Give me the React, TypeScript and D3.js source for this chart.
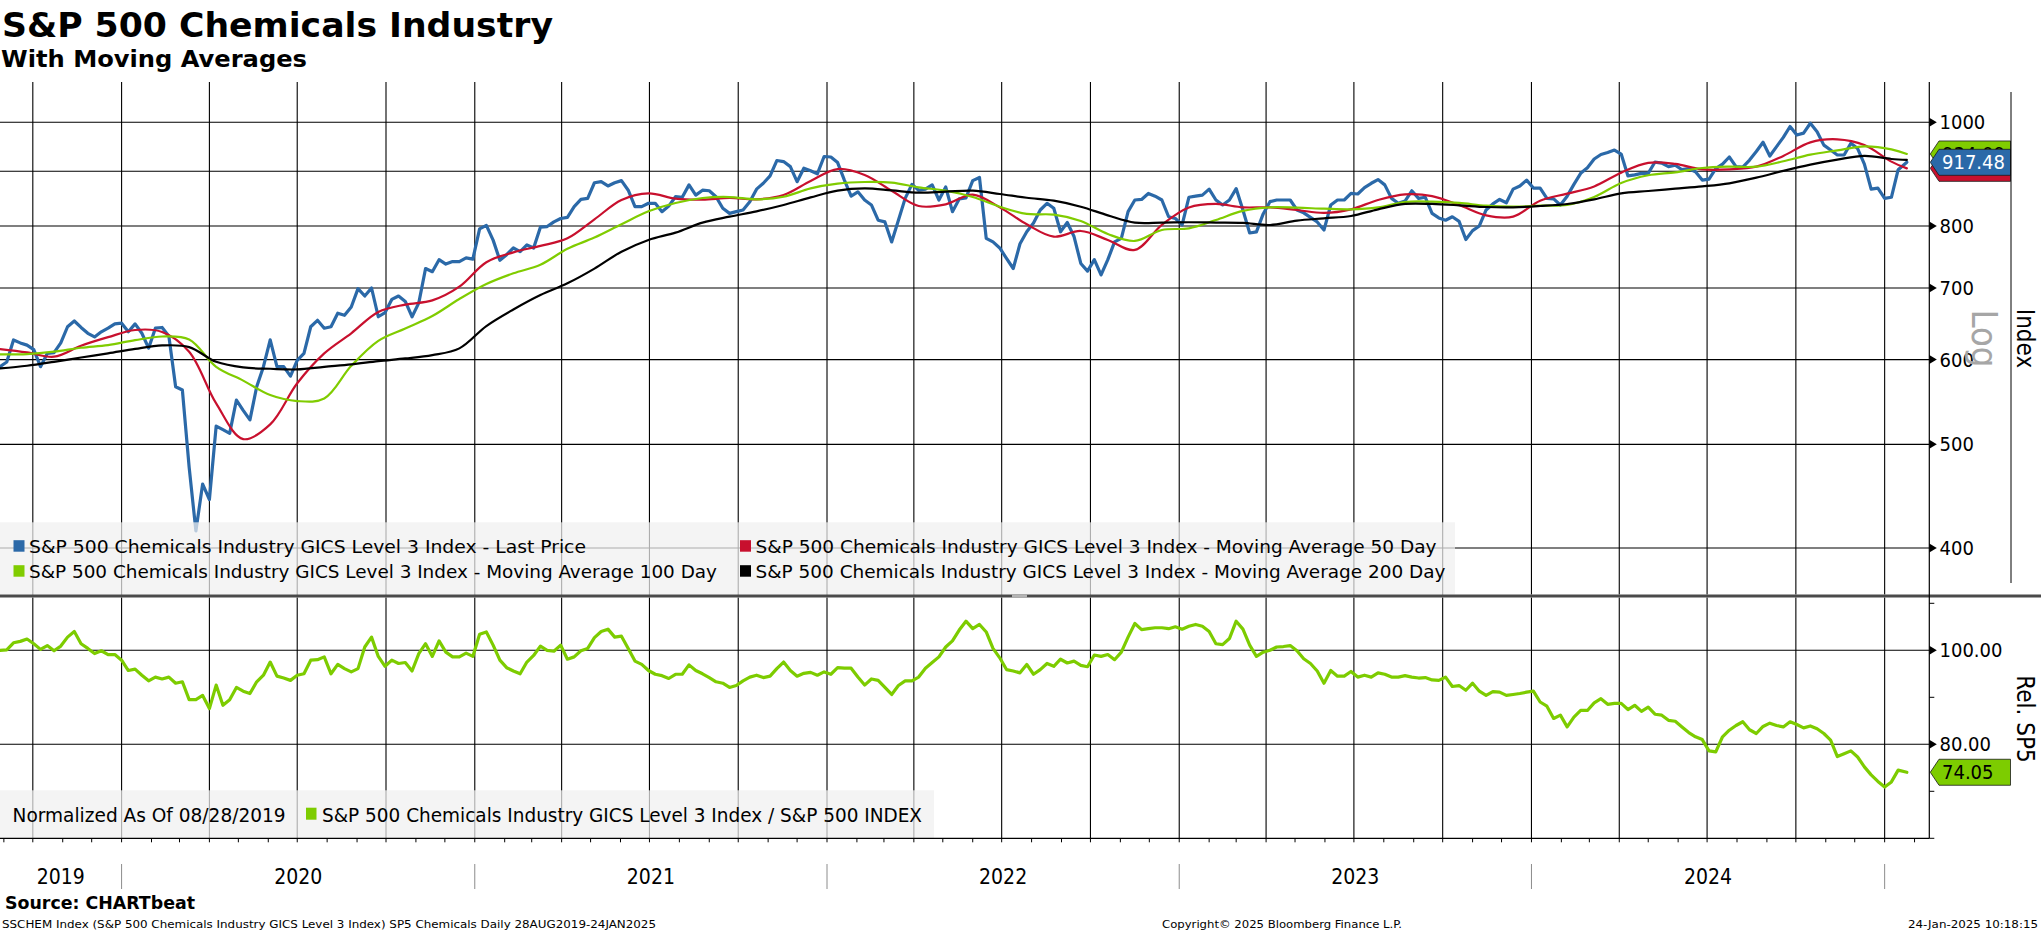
import React from 'react';
import * as d3 from 'd3';

// ---------- data ----------
const START_DATE = '2019-08-28';
const LAST_DATE = '2025-01-24';
const AXIS_END_DATE = '2025-02-17';
const MA_STEP_WEEKS = 4;

// weekly Last Price, from 28 Aug 2019 (last value = 24 Jan 2025)
const priceWeekly = [
  591, 597, 626, 622, 619, 613, 591, 608, 609, 622,
  644, 652, 643, 635, 630, 637, 642, 648, 649, 637,
  648, 635, 615, 642, 643, 631, 566, 562, 476, 415,
  459, 444, 520, 516, 512, 550, 538, 527, 566, 591,
  626, 591, 591, 579, 599, 608, 644, 653, 642, 644,
  663, 660, 672, 699, 688, 700, 658, 664, 683, 688,
  680, 658, 678, 730, 725, 744, 737, 741, 741, 747,
  745, 795, 801, 776, 743, 752, 763, 757, 768, 763,
  798, 799, 807, 813, 815, 834, 847, 849, 878, 880,
  872, 878, 882, 864, 834, 834, 840, 840, 825, 835,
  852, 851, 874, 855, 864, 863, 852, 831, 822, 825,
  828, 843, 866, 877, 891, 921, 919, 909, 880, 906,
  901, 895, 929, 928, 917, 883, 853, 861, 846, 837,
  810, 807, 773, 810, 849, 875, 864, 866, 874, 846,
  870, 825, 848, 850, 882, 888, 779, 773, 763, 746,
  730, 770, 790, 805, 828, 840, 831, 790, 806, 782,
  738, 726, 744, 720, 744, 773, 779, 825, 846, 847,
  858, 853, 846, 816, 813, 802, 851, 853, 855, 866,
  846, 837, 846, 867, 828, 788, 790, 821, 843, 846,
  846, 846, 828, 823, 815, 807, 793, 837, 846, 846,
  858, 857, 869, 877, 884, 874, 849, 840, 844, 863,
  849, 851, 822, 814, 810, 816, 808, 777, 792, 800,
  828, 839, 847, 841, 866, 872, 883, 868, 868, 849,
  848, 837, 853, 875, 896, 907, 924, 933, 937, 942,
  934, 891, 893, 896, 896, 918, 916, 909, 912, 903,
  905, 899, 883, 885, 905, 914, 928, 909, 908, 922,
  939, 958, 930, 949, 968, 991, 973, 977, 998, 980,
  952, 942, 932, 932, 956, 945, 914, 866, 868, 849,
  851, 903, 917.48,
];

// moving averages every 4 weeks (last value = 24 Jan 2025)
const ma50 = [
  613.8, 609.4, 603.8, 618.2, 629.7, 639.5, 636.8, 610.3, 546.0, 505.7,
  521.9, 570.2, 608.1, 635.0, 664.8, 675.4, 681.6, 702.0, 740.0, 755.8,
  766.4, 779.1, 811.5, 846.0, 858.2, 848.4, 846.6, 849.6, 847.2, 855.1,
  881.3, 904.3, 892.8, 863.0, 835.1, 838.2, 856.0, 832.7, 803.0, 781.8,
  791.4, 776.3, 759.8, 802.0, 832.5, 838.8, 832.7, 832.7, 828.0, 822.8,
  829.2, 846.0, 856.4, 853.2, 837.0, 818.5, 816.2, 844.8, 857.6, 871.1,
  897.3, 916.3, 914.3, 903.7, 903.7, 908.9, 930.2, 957.8, 964.0, 952.2,
  918.8, 905.61,
];
const ma100 = [
  606.8, 607.2, 610.3, 615.5, 619.1, 625.7, 630.6, 626.5, 590.8, 573.5,
  555.9, 548.8, 551.8, 592.0, 624.8, 641.7, 659.0, 683.6, 706.0, 722.5,
  735.9, 761.6, 780.3, 803.0, 825.6, 840.6, 849.6, 851.4, 847.2, 851.9,
  867.4, 876.3, 879.4, 878.2, 869.3, 863.1, 851.5, 833.9, 821.0, 819.8,
  808.7, 786.3, 774.6, 793.1, 796.0, 810.4, 826.3, 832.7, 832.1, 830.3,
  829.2, 832.7, 842.4, 843.0, 840.6, 835.7, 833.9, 835.7, 837.0, 851.4,
  877.5, 892.2, 897.9, 906.3, 908.9, 908.9, 919.5, 932.8, 941.4, 949.5,
  943.5, 934.09,
];
const ma200 = [
  588.7, 592.1, 597.2, 602.8, 608.1, 614.0, 618.6, 616.4, 597.2, 590.0,
  588.3, 587.5, 590.8, 593.8, 598.1, 601.5, 605.9, 614.7, 645.0, 668.4,
  689.5, 707.1, 729.8, 756.9, 776.3, 788.6, 805.8, 816.2, 825.6, 837.0,
  850.7, 863.1, 867.4, 863.7, 859.4, 861.2, 863.1, 857.0, 850.1, 844.8,
  833.9, 818.5, 805.8, 805.8, 806.4, 805.8, 805.2, 801.7, 809.3, 813.3,
  817.4, 829.2, 838.8, 838.8, 836.4, 833.3, 832.7, 835.1, 838.8, 847.2,
  858.2, 862.5, 866.8, 871.1, 876.9, 887.6, 900.8, 912.9, 922.8, 930.2,
  924.1, 922.12,
];

// weekly ratio to S&P 500, normalized 28 Aug 2019 = 100
const relWeekly = [
  100.0, 100.1, 101.6, 101.9, 102.4, 101.4, 100.2, 101.0, 99.9, 100.9,
  102.8, 104.0, 101.4, 100.4, 99.3, 99.9, 99.1, 99.1, 97.9, 95.7,
  96.0, 94.7, 93.5, 94.3, 93.9, 94.3, 93.0, 93.3, 89.5, 89.5,
  90.4, 87.6, 92.6, 88.3, 89.5, 92.1, 91.3, 90.8, 93.3, 94.7,
  97.5, 94.5, 94.1, 93.6, 94.7, 95.0, 97.9, 98.0, 98.6, 95.0,
  97.0, 96.1, 95.4, 96.1, 100.7, 102.8, 98.7, 96.6, 97.9, 97.2,
  97.4, 95.6, 99.3, 101.4, 98.7, 102.0, 99.6, 98.6, 98.6, 99.4,
  98.7, 103.4, 103.9, 101.1, 97.9, 96.3, 95.6, 95.0, 97.5, 98.9,
  100.9, 100.0, 99.8, 101.1, 98.1, 98.6, 99.9, 100.4, 102.7, 104.0,
  104.5, 102.8, 103.0, 100.4, 97.7, 97.0, 95.7, 94.9, 94.6, 94.0,
  94.9, 94.9, 96.9, 95.7, 95.0, 94.2, 93.3, 93.0, 92.1, 92.5,
  93.5, 94.3, 94.7, 94.2, 94.5, 96.1, 97.5, 95.7, 94.5, 95.1,
  95.3, 94.7, 95.4, 94.9, 96.3, 96.2, 96.2, 94.3, 92.6, 93.9,
  93.6, 92.1, 90.6, 92.5, 93.5, 93.5, 94.3, 96.2, 97.4, 98.6,
  100.7, 102.0, 104.3, 106.2, 104.6, 105.5, 103.9, 100.4, 98.4, 95.9,
  95.6, 95.2, 97.0, 94.9, 95.9, 97.2, 96.6, 98.1, 97.3, 97.7,
  96.8, 96.5, 99.0, 98.7, 99.1, 98.0, 99.6, 102.8, 105.7, 104.4,
  104.6, 104.8, 104.8, 104.6, 105.0, 104.5, 105.1, 105.5, 105.1, 104.0,
  101.4, 101.2, 102.5, 106.2, 104.5, 101.1, 98.7, 99.6, 100.0, 100.7,
  100.8, 101.0, 99.9, 98.2, 97.2, 95.6, 93.0, 95.7, 94.5, 94.5,
  95.5, 94.3, 94.7, 94.3, 95.2, 94.9, 94.3, 94.3, 94.6, 94.3,
  94.1, 94.2, 93.7, 93.6, 94.3, 92.3, 92.5, 91.5, 93.0, 91.3,
  90.4, 91.2, 91.1, 90.4, 90.6, 90.8, 91.1, 91.3, 89.0, 88.1,
  85.5, 86.2, 83.7, 85.8, 87.2, 87.2, 88.8, 89.7, 88.5, 88.7,
  88.7, 87.4, 88.3, 87.0, 87.9, 86.4, 86.2, 85.1, 84.9, 83.7,
  82.5, 81.6, 81.0, 78.6, 78.4, 81.6, 83.0, 84.0, 84.8, 83.1,
  82.3, 83.8, 84.5, 84.0, 83.7, 84.8, 84.2, 83.5, 83.9, 83.3,
  82.3, 80.9, 77.4, 78.0, 78.6, 77.3, 75.2, 73.5, 72.1, 70.9,
  72.0, 74.5, 74.05,
];

const priceTicks = [400, 500, 600, 700, 800, 1000];
const priceGrid = [400, 500, 600, 700, 800, 900, 1000];
const relTicks = [80, 100];
const relGrid = [80, 100];
const relMinorTicks = [60, 70, 90, 110];
const yearLabels = [2019, 2020, 2021, 2022, 2023, 2024];

const TITLE = 'S&P 500 Chemicals Industry';
const SUBTITLE = 'With Moving Averages';
const SERIES_NAME = 'S&P 500 Chemicals Industry GICS Level 3 Index';
const legendTop = [
  { label: `${SERIES_NAME} - Last Price`, color: '#2b69a8', len: 557 },
  { label: `${SERIES_NAME} - Moving Average 100 Day`, color: '#80cc00', len: 688 },
  { label: `${SERIES_NAME} - Moving Average 50 Day`, color: '#c8102e', len: 681 },
  { label: `${SERIES_NAME} - Moving Average 200 Day`, color: '#000000', len: 690 },
];
const NORMALIZED_TEXT = 'Normalized As Of 08/28/2019';
const REL_LABEL = `${SERIES_NAME} / S&P 500 INDEX`;
const SOURCE_TEXT = 'Source: CHARTbeat';
const FOOTER_LEFT = `SSCHEM Index (${SERIES_NAME}) SP5 Chemicals  Daily 28AUG2019-24JAN2025`;
const FOOTER_MID = 'Copyright\u00a9 2025 Bloomberg Finance L.P.';
const FOOTER_RIGHT = '24-Jan-2025 10:18:15';

const FONT = '"DejaVu Sans Condensed", "DejaVu Sans", sans-serif';
const C_BLUE = '#2b69a8';
const C_RED = '#c8102e';
const C_GREEN = '#80cc00';
const C_REL = '#7dcc00';

type Pt = { date: Date; value: number };

export default function App() {
  const parse = d3.utcParse('%Y-%m-%d');
  const start = parse(START_DATE) as Date;
  const last = parse(LAST_DATE) as Date;
  const end = parse(AXIS_END_DATE) as Date;
  const weekDate = (k: number) => d3.utcDay.offset(start, 7 * k);

  const weekly = (arr: number[]): Pt[] =>
    arr.map((v, i) => ({ date: i === arr.length - 1 ? last : weekDate(i), value: v }));
  const fourWeekly = (arr: number[]): Pt[] =>
    arr.map((v, i) => ({ date: i === arr.length - 1 ? last : weekDate(MA_STEP_WEEKS * i), value: v }));

  const price = weekly(priceWeekly);
  const rel = weekly(relWeekly);
  const m50 = fourWeekly(ma50);
  const m100 = fourWeekly(ma100);
  const m200 = fourWeekly(ma200);

  // layout
  const plotL = 0;
  const plotR = 1929.3;
  const topY0 = 82;
  const topY1 = 594.5;
  const botY0 = 597.5;
  const botY1 = 838.3;

  const x = d3.scaleUtc().domain([start, end]).range([0, 1930]);
  const yTop = d3.scaleLog().domain([400, 1000]).range([548, 122.3]);
  const yRel = d3.scaleLinear().domain([60, 100]).range([botY1, 650.3]);

  const linePrice = d3.line<Pt>().x((d) => x(d.date)).y((d) => yTop(d.value));
  const lineMA = d3
    .line<Pt>()
    .x((d) => x(d.date))
    .y((d) => yTop(d.value))
    .curve(d3.curveCatmullRom.alpha(0.5));
  const lineRel = d3.line<Pt>().x((d) => x(d.date)).y((d) => yRel(d.value));

  const quarters = d3.utcMonth.every(3)!.range(start, end);
  const months = d3.utcMonth.range(start, end);
  const yearStarts = d3.utcYear.range(start, end);

  const tagPath = (cy: number) =>
    `M${plotR + 1},${cy} L1939,${cy - 13} L2010.5,${cy - 13} L2010.5,${cy + 13} L1939,${cy + 13} Z`;
  const fmt = d3.format('.2f');

  const lastOf = (a: Pt[]) => a[a.length - 1].value;
  // stacked last-value tags (MA 200 tag lies fully hidden behind the others in the reference)
  const tagsTop = [
    { v: lastOf(m100), fill: C_GREEN, text: '#000000' },
    { v: lastOf(m50), fill: C_RED, text: '#ffffff' },
    { v: lastOf(price), fill: C_BLUE, text: '#ffffff' },
  ];
  const relLast = lastOf(rel);

  return (
    <div style={{ position: 'absolute', left: 0, top: 0, background: '#fff' }}>
      <svg width={2041} height={932} style={{ display: 'block', fontFamily: FONT }}>
        <defs>
          <clipPath id="clipTop">
            <rect x={plotL} y={topY0} width={plotR - plotL} height={topY1 - topY0} />
          </clipPath>
          <clipPath id="clipBot">
            <rect x={plotL} y={botY0} width={plotR - plotL} height={botY1 - botY0} />
          </clipPath>
        </defs>
        <rect x={0} y={0} width={2041} height={932} fill="#ffffff" />

        {/* titles */}
        <text x={2} y={36.7} fontSize={34} fontWeight="bold" textLength={551} lengthAdjust="spacingAndGlyphs">
          {TITLE}
        </text>
        <text x={1} y={66.7} fontSize={23} fontWeight="bold" textLength={306} lengthAdjust="spacingAndGlyphs">
          {SUBTITLE}
        </text>

        {/* grids */}
        <g stroke="#000" strokeWidth={1.1}>
          {quarters.map((d, i) => (
            <line key={'qt' + i} x1={x(d)} x2={x(d)} y1={topY0} y2={topY1} />
          ))}
          {priceGrid.map((v) => (
            <line key={'hg' + v} x1={plotL} x2={plotR} y1={yTop(v)} y2={yTop(v)} />
          ))}
          {quarters.map((d, i) => (
            <line key={'qb' + i} x1={x(d)} x2={x(d)} y1={botY0} y2={botY1} />
          ))}
          {relGrid.map((v) => (
            <line key={'rg' + v} x1={plotL} x2={plotR} y1={yRel(v)} y2={yRel(v)} />
          ))}
        </g>

        {/* top panel lines */}
        <g clipPath="url(#clipTop)" fill="none" strokeLinejoin="round" strokeLinecap="round">
          <path d={linePrice(price) || ''} stroke={C_BLUE} strokeWidth={3.2} />
          <path d={lineMA(m50) || ''} stroke={C_RED} strokeWidth={2.2} />
          <path d={lineMA(m100) || ''} stroke={C_GREEN} strokeWidth={2.2} />
          <path d={lineMA(m200) || ''} stroke="#000" strokeWidth={2.2} />
        </g>

        {/* top legend */}
        <rect x={0} y={522.3} width={1455} height={topY1 - 522.3} fill="#f0f0f0" fillOpacity={0.72} />
        {legendTop.map((e, i) => {
          const col = Math.floor(i / 2);
          const row = i % 2;
          const lx = col === 0 ? 13.5 : 740;
          const by = 552.7 + row * 25;
          return (
            <g key={'lg' + i}>
              <rect x={lx} y={by - 12.5} width={11} height={11.5} fill={e.color} />
              <text x={lx + 15.5} y={by} fontSize={17} fill="#000" textLength={e.len} lengthAdjust="spacingAndGlyphs">
                {e.label}
              </text>
            </g>
          );
        })}

        {/* lower panel line */}
        <g clipPath="url(#clipBot)" fill="none" strokeLinejoin="round" strokeLinecap="round">
          <path d={lineRel(rel) || ''} stroke={C_REL} strokeWidth={3.2} />
        </g>

        {/* lower legend */}
        <rect x={0} y={790.3} width={934} height={botY1 - 790.3} fill="#f0f0f0" fillOpacity={0.72} />
        <text x={12.6} y={822} fontSize={19} textLength={273} lengthAdjust="spacingAndGlyphs">
          {NORMALIZED_TEXT}
        </text>
        <rect x={306} y={807.7} width={10.5} height={12} fill={C_REL} />
        <text x={322} y={822} fontSize={19} textLength={600} lengthAdjust="spacingAndGlyphs">
          {REL_LABEL}
        </text>

        {/* divider */}
        <rect x={0} y={topY1} width={2041} height={3} fill="#4a4a4a" />
        <rect x={1012} y={topY1} width={15} height={3} fill="#b4b4b4" />

        {/* bottom axis */}
        <line x1={plotL} x2={plotR} y1={botY1} y2={botY1} stroke="#000" strokeWidth={1.2} />
        {months.map((d, i) => (
          <line key={'mt' + i} x1={x(d)} x2={x(d)} y1={botY1} y2={botY1 + 4} stroke="#000" strokeWidth={1} />
        ))}
        {yearStarts.map((d, i) => (
          <line key={'ys' + i} x1={x(d)} x2={x(d)} y1={864} y2={889} stroke="#8c8c8c" strokeWidth={1} />
        ))}
        {yearLabels.map((yr) => {
          const a = Math.max(x(new Date(Date.UTC(yr, 0, 1))), plotL);
          const b = Math.min(x(new Date(Date.UTC(yr + 1, 0, 1))), plotR);
          return (
            <text key={'yl' + yr} x={(a + b) / 2} y={884} fontSize={21} textAnchor="middle">
              {yr}
            </text>
          );
        })}

        {/* right axis */}
        <line x1={plotR} x2={plotR} y1={topY0} y2={botY1} stroke="#000" strokeWidth={1.2} />
        {priceTicks.map((v) => (
          <g key={'pt' + v}>
            <polygon points={`${plotR},${yTop(v) - 4.5} ${plotR + 7.5},${yTop(v)} ${plotR},${yTop(v) + 4.5}`} fill="#000" />
            <text x={1939.5} y={yTop(v)} fontSize={20} dominantBaseline="central">
              {v}
            </text>
          </g>
        ))}
        {relTicks.map((v) => (
          <g key={'rt' + v}>
            <polygon points={`${plotR},${yRel(v) - 4.5} ${plotR + 7.5},${yRel(v)} ${plotR},${yRel(v) + 4.5}`} fill="#000" />
            <text x={1939.5} y={yRel(v)} fontSize={20} dominantBaseline="central">
              {fmt(v)}
            </text>
          </g>
        ))}
        {relMinorTicks.map((v) => (
          <line key={'rm' + v} x1={plotR} x2={plotR + 5} y1={yRel(v)} y2={yRel(v)} stroke="#000" strokeWidth={1} />
        ))}

        {/* last value tags */}
        {tagsTop.map((t, i) => {
          const cy = yTop(t.v);
          return (
            <g key={'tg' + i}>
              <path d={tagPath(cy)} fill={t.fill} stroke="#1a1a1a" strokeWidth={0.8} />
              <text x={1942} y={cy} fontSize={20} fill={t.text} dominantBaseline="central">
                {fmt(t.v)}
              </text>
            </g>
          );
        })}
        <g>
          <path d={tagPath(yRel(relLast))} fill={C_REL} stroke="#1a1a1a" strokeWidth={0.8} />
          <text x={1942} y={yRel(relLast)} fontSize={20} fill="#000" dominantBaseline="central">
            {fmt(relLast)}
          </text>
        </g>

        {/* axis titles */}
        <line x1={2011} x2={2011} y1={92} y2={583} stroke="#000" strokeWidth={1} />
        <text transform="translate(1972,338.5) rotate(90)" fontSize={36} fill="#a6a6a6" textAnchor="middle">
          Log
        </text>
        <text transform="translate(2017,338.5) rotate(90)" fontSize={24} textAnchor="middle">
          Index
        </text>
        <text transform="translate(2017,719) rotate(90)" fontSize={24} textAnchor="middle">
          Rel. SP5
        </text>

        {/* footer */}
        <text x={5} y={908.7} fontSize={17} fontWeight="bold" textLength={190} lengthAdjust="spacingAndGlyphs">
          {SOURCE_TEXT}
        </text>
        <text x={2} y={927.7} fontSize={11} textLength={654} lengthAdjust="spacingAndGlyphs">
          {FOOTER_LEFT}
        </text>
        <text x={1162} y={927.7} fontSize={11} textLength={240} lengthAdjust="spacingAndGlyphs">
          {FOOTER_MID}
        </text>
        <text x={1908} y={927.7} fontSize={11} textLength={130} lengthAdjust="spacingAndGlyphs">
          {FOOTER_RIGHT}
        </text>
      </svg>
    </div>
  );
}
